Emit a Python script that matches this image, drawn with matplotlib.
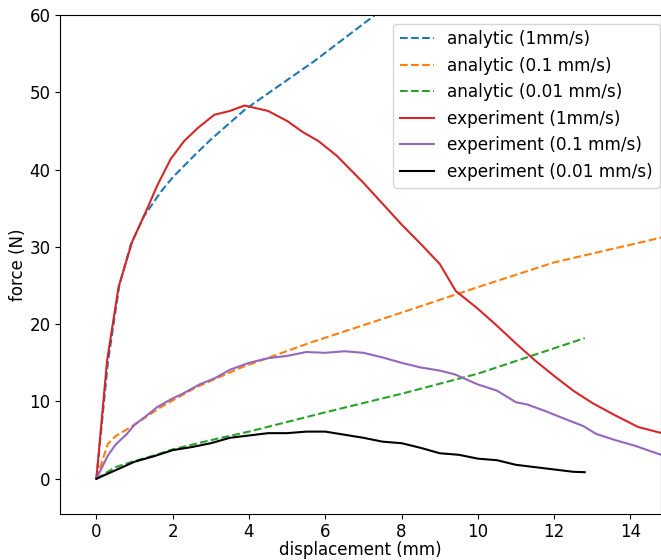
import matplotlib.pyplot as plt

# analytic curves
x_a1 = [0, 0.3, 0.6, 0.9, 1.25, 1.7, 2.0, 2.6, 3.0, 3.9, 5.0, 5.7, 7.3, 8.0]
y_a1 = [0, 15.0, 25.0, 30.3, 34.0, 37.2, 39.0, 42.0, 43.9, 47.8, 51.6, 54.0, 60.0, 62.5]

x_a2 = [0, 0.3, 0.5, 1.0, 1.7, 2.6, 3.8, 5.6, 8.0, 10.0, 12.0, 14.8]
y_a2 = [0, 4.5, 5.5, 7.0, 9.3, 11.8, 14.4, 17.6, 21.5, 24.8, 28.0, 31.2]

x_a3 = [0, 0.5, 1.0, 1.5, 2.0, 3.0, 4.0, 6.0, 8.0, 10.0, 12.8]
y_a3 = [0, 1.5, 2.3, 3.0, 3.8, 5.0, 6.1, 8.6, 11.0, 13.6, 18.2]

# experimental curves
x_e1 = [0, 0.28, 0.58, 0.94, 1.3, 1.6, 1.95, 2.3, 2.66, 3.09, 3.5, 3.88, 4.5,
        5.0, 5.4, 5.82, 6.3, 7.0, 7.5, 8.0, 8.5, 9.0, 9.42, 10.0, 10.5, 11.0,
        11.5, 12.0, 12.5, 13.0, 13.6, 14.2, 14.9]
y_e1 = [0, 15.3, 24.8, 30.7, 34.6, 38.0, 41.4, 43.7, 45.4, 47.1, 47.6, 48.3, 47.6,
        46.3, 44.9, 43.7, 41.8, 38.3, 35.6, 32.9, 30.4, 27.8, 24.3, 22.0, 19.8, 17.5,
        15.3, 13.3, 11.4, 9.8, 8.2, 6.7, 5.8]

x_e2 = [0, 0.3, 0.5, 0.8, 1.0, 1.3, 1.6, 2.0, 2.3, 2.7, 3.1, 3.5, 4.0, 4.5, 5.0,
        5.5, 6.0, 6.5, 7.0, 7.5, 8.0, 8.5, 9.0, 9.4, 10.0, 10.5, 11.0, 11.3,
        11.8, 12.2, 12.77, 13.1, 13.6, 14.1, 14.8]
y_e2 = [0, 3.0, 4.4, 5.8, 7.0, 8.1, 9.3, 10.4, 11.1, 12.2, 13.0, 14.1, 15.0, 15.6, 15.9,
        16.4, 16.3, 16.5, 16.3, 15.7, 15.0, 14.4, 14.0, 13.5, 12.2, 11.4, 9.9, 9.6,
        8.7, 7.9, 6.8, 5.8, 5.0, 4.3, 3.1]

x_e3 = [0, 0.5, 1.0, 1.5, 2.0, 2.5, 3.0, 3.5, 4.0, 4.5, 5.0, 5.5, 6.0, 6.5, 7.0,
        7.5, 8.0, 8.5, 9.0, 9.5, 10.0, 10.5, 11.0, 11.5, 12.0, 12.5, 12.8]
y_e3 = [0, 1.1, 2.2, 2.9, 3.7, 4.1, 4.6, 5.3, 5.6, 5.9, 5.9, 6.1, 6.1, 5.7, 5.3,
        4.8, 4.6, 4.0, 3.3, 3.1, 2.6, 2.4, 1.8, 1.5, 1.2, 0.9, 0.85]


def main():
    plt.rcParams['font.size'] = 12
    fig = plt.figure(figsize=(6.61, 5.6), dpi=100)
    ax = fig.add_axes([0.091, 0.083, 0.909, 0.89])

    ax.plot(x_a1, y_a1, "--", color="#1f77b4", label="analytic (1mm/s)")
    ax.plot(x_a2, y_a2, "--", color="#ff7f0e", label="analytic (0.1 mm/s)")
    ax.plot(x_a3, y_a3, "--", color="#2ca02c", label="analytic (0.01 mm/s)")
    ax.plot(x_e1, y_e1, "-", color="#d62728", label="experiment (1mm/s)")
    ax.plot(x_e2, y_e2, "-", color="#9467bd", label="experiment (0.1 mm/s)")
    ax.plot(x_e3, y_e3, "-", color="black", label="experiment (0.01 mm/s)")

    ax.set_xlim(-0.95, 14.8)
    ax.set_ylim(-4.5, 60)
    ax.set_xticks(range(0, 15, 2))
    ax.set_yticks(range(0, 61, 10))
    ax.set_xlabel("displacement (mm)", labelpad=0)
    ax.set_ylabel("force (N)", labelpad=2)
    ax.legend(loc="upper right", bbox_to_anchor=(1.012, 1.0), fontsize=12.2)

    fig.savefig("out.png", dpi=100)


if __name__ == "__main__":
    main()
